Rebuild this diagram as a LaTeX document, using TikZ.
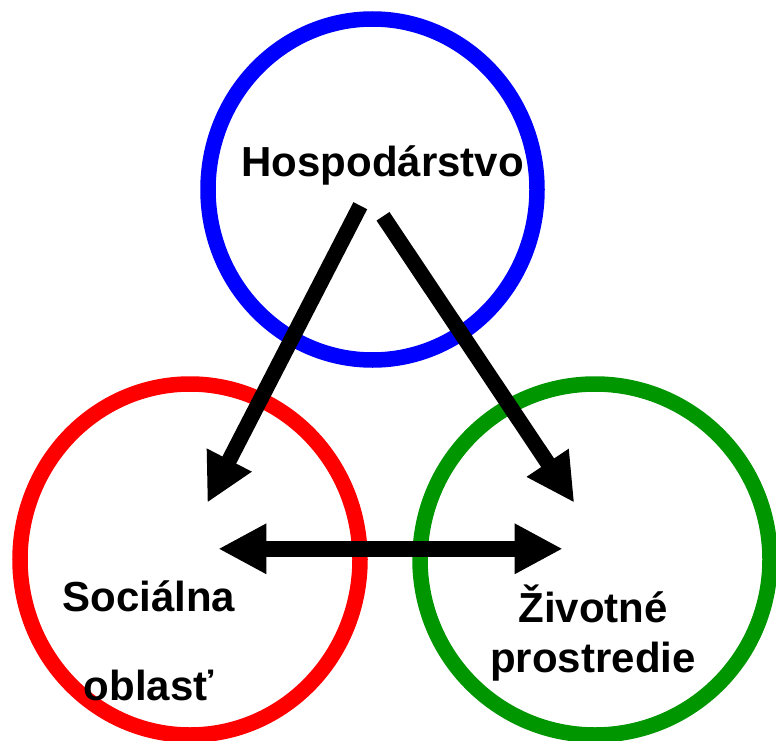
\documentclass[tikz,border=0pt]{standalone}
\usepackage{fontspec}
\setmainfont{Liberation Sans}
\usetikzlibrary{shapes.geometric,arrows.meta}
\definecolor{ringblue}{RGB}{0,0,255}
\definecolor{ringred}{RGB}{255,0,0}
\definecolor{ringgreen}{RGB}{0,150,0}
\begin{document}
\begin{tikzpicture}[
        x=1pt,y=-1pt,
        ring/.style={draw,ellipse,line width=15.5pt,inner sep=0pt},
        word/.style={font=\fontsize{42}{50}\selectfont\bfseries,inner sep=0pt,align=center},
        link/.style={line width=15.5pt,-{Triangle[length=48pt,width=47pt]}},
        biglink/.style={line width=15.5pt,{Triangle[length=48pt,width=47pt]}-{Triangle[length=48pt,width=47pt]}},
        ]
    \useasboundingbox (0,0) rectangle (776,741);
    % the three rings
    \node (hosp) [ring,draw=ringblue,minimum width=329pt,minimum height=341pt] at (372.5,189.5) {};
    \node (soc) [ring,draw=ringred,minimum width=340pt,minimum height=351pt] at (190,559.5) {};
    \node (env) [ring,draw=ringgreen,minimum width=350pt,minimum height=351pt] at (595,559.5) {};
    % labels (base = last line)
    \node (hospl) [word,anchor=base] at (382.8,176) {Hospodárstvo};
    \node (socl) [word,anchor=base] at (148.7,700) {Sociálna\\[39pt]oblasť};
    \node (envl) [word,anchor=base] at (593,672.7) {Životné\\prostredie};
    % arrow ends
    \coordinate (hs) at (360.3,205.7);
    \coordinate (he) at (383,216.3);
    \coordinate (st) at (207.3,502.7);
    \coordinate (et) at (574.3,502.7);
    \coordinate (sb) at (218.3,548.8);
    \coordinate (eb) at (562.7,548.8);
    \draw [link] (hs) -- (st);
    \draw [link] (he) -- (et);
    \draw [biglink] (sb) -- (eb); % both ways
\end{tikzpicture}
\end{document}
